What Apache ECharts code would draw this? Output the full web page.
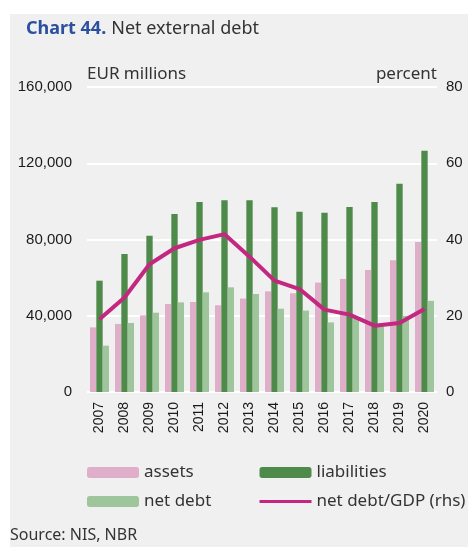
<!DOCTYPE html>
<html>
<head>
<meta charset="utf-8">
<script src="https://cdn.jsdelivr.net/npm/echarts@6/dist/echarts.min.js"></script>
<style>
  html, body { margin: 0; padding: 0; background: #ffffff; }
  #chart { width: 468px; height: 547px; }
</style>
</head>
<body>
<div id="chart"></div>
<script>
// Net external debt, EUR millions (bars) and % of GDP (line, right axis)
const years = ['2007','2008','2009','2010','2011','2012','2013','2014','2015','2016','2017','2018','2019','2020'];
const assets      = [33900, 35700, 40200, 46200, 47200, 45500, 49000, 52800, 51800, 57400, 59300, 64000, 69100, 78700];
const liabilities = [58400, 72400, 82000, 93400, 99700, 100600, 100600, 96900, 94500, 94000, 97100, 99700, 109300, 126500];
const netDebt     = [24300, 36200, 41600, 47000, 52300, 54900, 51400, 43700, 42700, 36500, 38300, 34400, 40000, 47800];
const netDebtGdp  = [19.1, 24.8, 33.5, 37.7, 39.9, 41.4, 35.5, 29.2, 27.0, 21.6, 20.3, 17.4, 18.1, 21.8];
const leftTicks   = [0, 40000, 80000, 120000, 160000];
const rightTicks  = [0, 20, 40, 60, 80];

const tickFont = '"Liberation Sans", Arial, sans-serif';
const sans = '"Noto Sans", "Open Sans", sans-serif';
const txt = '#1a1a1a';

const chart = echarts.init(document.getElementById('chart'), null, { renderer: 'canvas' });

chart.setOption({
  animation: false,
  backgroundColor: '#ffffff',
  graphic: [
    { type: 'rect', left: 10, top: 14, z: -100, silent: true,
      shape: { width: 458, height: 533 }, style: { fill: '#f0f0f0' } },
    { type: 'text', left: 10, top: 527, z: 10,
      style: { text: 'Source: NIS, NBR', font: '16px ' + sans, fill: '#333333' } }
  ],
  title: {
    left: 21, top: 15,
    text: '{b|Chart 44.} {n|Net external debt}',
    textStyle: {
      rich: {
        b: { fontFamily: sans, fontSize: 18, fontWeight: 'bold', color: '#2b50a0' },
        n: { fontFamily: sans, fontSize: 18, fontWeight: 'normal', color: '#333333' }
      }
    }
  },
  legend: [
    {
      left: 87, top: 464, padding: 0, orient: 'vertical', itemWidth: 52, itemHeight: 11, itemGap: 12,
      textStyle: { fontFamily: sans, fontSize: 17, color: '#333333', lineHeight: 16 },
      data: ['assets', 'net debt']
    },
    {
      left: 258, top: 464, padding: 0, orient: 'vertical', itemWidth: 52, itemHeight: 11, itemGap: 12,
      textStyle: { fontFamily: sans, fontSize: 17, color: '#333333', lineHeight: 16 },
      data: ['liabilities', {
        name: 'net debt/GDP (rhs)',
        itemStyle: { opacity: 0 },
        lineStyle: { width: 3 }
      }]
    }
  ],
  grid: { left: 87, right: 31, top: 87, bottom: 155, containLabel: false },
  xAxis: {
    type: 'category', data: years,
    axisLine: { show: false }, axisTick: { show: false },
    axisLabel: { rotate: 90, margin: 10, fontFamily: tickFont, fontSize: 14, color: txt }
  },
  yAxis: [
    {
      type: 'value', min: leftTicks[0], max: leftTicks[leftTicks.length - 1], interval: 40000,
      name: 'EUR millions', nameLocation: 'end', nameGap: 4,
      nameTextStyle: { fontFamily: sans, fontSize: 17, color: '#333333', align: 'left', verticalAlign: 'bottom' },
      axisLine: { show: false }, axisTick: { show: false },
      splitLine: { lineStyle: { color: '#ffffff', width: 2 } },
      axisLabel: { margin: 15, fontFamily: tickFont, fontSize: 15, color: txt,
        formatter: v => v.toLocaleString('en-US') }
    },
    {
      type: 'value', min: rightTicks[0], max: rightTicks[rightTicks.length - 1], interval: 20,
      name: 'percent', nameLocation: 'end', nameGap: 4,
      nameTextStyle: { fontFamily: sans, fontSize: 17, color: '#333333', align: 'right', verticalAlign: 'bottom' },
      axisLine: { show: false }, axisTick: { show: false }, splitLine: { show: false },
      axisLabel: { margin: 9, fontFamily: tickFont, fontSize: 15, color: txt }
    }
  ],
  series: [
    { name: 'assets', type: 'bar', data: assets, barGap: '0%', barCategoryGap: '24%',
      itemStyle: { color: '#dfaec8' } },
    { name: 'liabilities', type: 'bar', data: liabilities, barGap: '0%', barCategoryGap: '24%',
      itemStyle: { color: '#4e8a4a' } },
    { name: 'net debt', type: 'bar', data: netDebt, barGap: '0%', barCategoryGap: '24%',
      itemStyle: { color: '#9ec59b' } },
    { name: 'net debt/GDP (rhs)', type: 'line', yAxisIndex: 1, data: netDebtGdp,
      symbol: 'none', z: 5,
      lineStyle: { color: '#c3277f', width: 4 }, itemStyle: { color: '#c3277f' } }
  ]
});
</script>
</body>
</html>
